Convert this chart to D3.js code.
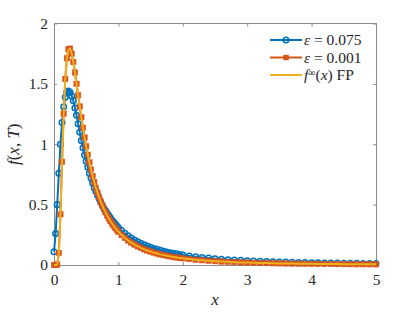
<!DOCTYPE html>
<html><head><meta charset="utf-8">
<script src="https://cdn.jsdelivr.net/npm/d3@7"></script>
<style>body{margin:0;background:#fff}svg{display:block}</style>
</head><body>
<svg id="c" width="415" height="312"></svg>
<script>
const xValues = [0,0.025,0.05,0.075,0.1,0.125,0.15,0.175,0.2,0.225,0.25,0.275,0.3,0.325,0.35,0.375,0.4,0.425,0.45,0.475,0.5,0.525,0.55,0.575,0.6,0.625,0.65,0.675,0.7,0.725,0.75,0.775,0.8,0.825,0.85,0.875,0.9,0.925,0.95,0.975,1.0,
1.05,1.1,1.15,1.2,1.25,1.3,1.35,1.4,1.45,1.5,1.55,1.6,1.65,1.7,1.75,1.8,1.85,1.9,1.95,2.0,
2.1,2.2,2.3,2.4,2.5,2.6,2.7,2.8,2.9,3.0,3.1,3.2,3.3,3.4,3.5,3.6,3.7,3.8,3.9,4.0,4.1,4.2,4.3,4.4,4.5,4.6,4.7,4.8,4.9,5.0];
const eps075 = [0.11,0.26,0.50,0.76,1.00,1.18,1.31,1.39,1.43,1.44,1.43,1.40,1.36,1.30,1.24,1.17,1.10,1.03,0.97,0.91,0.86,0.81,0.76,0.72,0.68,0.64,0.61,0.58,0.55,0.52,0.495,0.47,0.45,0.43,0.41,0.39,0.37,0.355,0.34,0.325,0.31,
0.285,0.262,0.242,0.224,0.207,0.192,0.179,0.167,0.156,0.146,0.137,0.129,0.121,0.114,0.108,0.102,0.097,0.092,0.087,0.083,
0.075,0.068,0.062,0.057,0.052,0.048,0.044,0.041,0.038,0.035,0.033,0.031,0.029,0.027,0.025,0.024,0.022,0.021,0.020,0.019,0.018,0.017,0.0165,0.016,0.015,0.014,0.0135,0.013,0.0125,0.012];
const eps001 = [0,0,0.004,0.10,0.42,0.855,1.254,1.541,1.712,1.786,1.792,1.750,1.681,1.594,1.501,1.405,1.313,1.223,1.137,1.056,0.982,0.913,0.850,0.791,0.737,0.687,0.641,0.599,0.562,0.526,0.494,0.463,0.436,0.410,0.386,0.364,0.344,0.325,0.307,0.291,0.276,
0.248,0.224,0.203,0.185,0.169,0.154,0.142,0.130,0.120,0.111,0.1025,0.095,0.088,0.082,0.077,0.0716,0.0669,0.0627,0.0588,0.0553,
0.0491,0.0437,0.0391,0.0351,0.0316,0.0287,0.0260,0.0237,0.0217,0.0199,0.0183,0.0168,0.0156,0.0144,0.0134,0.0124,0.0115,0.0107,0.0100,0.0094,0.0088,0.0083,0.0078,0.0073,0.0069,0.0065,0.0061,0.0058,0.0055,0.0052];
const fpValues = [0,0,0.004,0.10,0.418,0.855,1.254,1.541,1.712,1.786,1.792,1.750,1.681,1.594,1.501,1.405,1.313,1.223,1.137,1.056,0.982,0.913,0.850,0.791,0.737,0.687,0.641,0.599,0.562,0.526,0.494,0.463,0.436,0.410,0.386,0.364,0.344,0.325,0.307,0.291,0.276,
0.248,0.224,0.203,0.185,0.169,0.154,0.142,0.130,0.120,0.111,0.1025,0.095,0.088,0.082,0.077,0.0716,0.0669,0.0627,0.0588,0.0553,
0.0491,0.0437,0.0391,0.0351,0.0316,0.0287,0.0260,0.0237,0.0217,0.0199,0.0183,0.0168,0.0156,0.0144,0.0134,0.0124,0.0115,0.0107,0.0100,0.0094,0.0088,0.0083,0.0078,0.0073,0.0069,0.0065,0.0061,0.0058,0.0055,0.0052];
const xTicks = [0,1,2,3,4,5];
const yTicks = [0,0.5,1,1.5,2];
const yTickLabels = ["0","0.5","1","1.5","2"];

const svg = d3.select("#c");
const L=54,R=376,T=23.5,B=265;
const x = d3.scaleLinear().domain([0,5]).range([L,R]);
const y = d3.scaleLinear().domain([0,2]).range([B,T]);
const axisCol="#262626", font="'Liberation Serif', 'DejaVu Serif', serif";
const C_BLUE="#0072BD", C_OR="#D95319", C_YEL="#EDB120";

const g = svg.append("g");
g.append("rect").attr("x",L).attr("y",T).attr("width",R-L).attr("height",B-T)
 .attr("fill","none").attr("stroke","#8c8c8c").attr("stroke-width",1).attr("shape-rendering","crispEdges");

const xb = g.append("g").attr("transform",`translate(0,${B})`)
  .call(d3.axisBottom(x).tickValues(xTicks).tickSizeInner(-3).tickSizeOuter(0).tickPadding(9).tickFormat(d3.format("d")));
const xt = g.append("g").attr("transform",`translate(0,${T})`)
  .call(d3.axisTop(x).tickValues(xTicks).tickSizeInner(-3).tickSizeOuter(0).tickFormat(""));
const yl = g.append("g").attr("transform",`translate(${L},0)`)
  .call(d3.axisLeft(y).tickValues(yTicks).tickSizeInner(-3).tickSizeOuter(0).tickPadding(6).tickFormat((d,i)=>yTickLabels[i]));
const yr = g.append("g").attr("transform",`translate(${R},0)`)
  .call(d3.axisRight(y).tickValues(yTicks).tickSizeInner(-3).tickSizeOuter(0).tickFormat(""));
[xb,xt,yl,yr].forEach(a=>{
  a.attr("font-family",font).attr("font-size",15.5);
  a.select(".domain").remove();
  a.selectAll(".tick line").attr("stroke","#8c8c8c");
  a.selectAll("text").attr("font-family",font).attr("font-size",15.5).attr("fill",axisCol);
});

const pts = (vals)=>xValues.map((xv,i)=>[xv,vals[i]]);
const line = d3.line().x(d=>x(d[0])).y(d=>y(d[1]));
const plot = svg.append("g");

plot.append("path").datum(pts(eps075)).attr("d",line).attr("fill","none").attr("stroke",C_BLUE).attr("stroke-width",2);
plot.append("g").selectAll("circle").data(pts(eps075)).join("circle")
  .attr("cx",d=>x(d[0])).attr("cy",d=>y(d[1])).attr("r",2.8)
  .attr("fill","none").attr("stroke",C_BLUE).attr("stroke-width",1.5);
plot.append("path").datum(pts(eps001)).attr("d",line).attr("fill","none").attr("stroke",C_OR).attr("stroke-width",2);
plot.append("g").selectAll("rect").data(pts(eps001)).join("rect")
  .attr("x",d=>x(d[0])-2.7).attr("y",d=>y(d[1])-2.7).attr("width",5.4).attr("height",5.4)
  .attr("fill",C_OR).attr("stroke",C_OR).attr("stroke-width",0.5);
plot.append("path").datum(pts(fpValues)).attr("d",line).attr("fill","none").attr("stroke",C_YEL).attr("stroke-width",2);

svg.append("text").attr("x",(L+R)/2).attr("y",305).attr("text-anchor","middle")
  .attr("font-family",font).attr("font-size",17).attr("font-style","italic").attr("fill",axisCol).text("x");
const yt = svg.append("text").attr("transform",`translate(19,${(T+B)/2}) rotate(-90)`).attr("text-anchor","middle")
  .attr("font-family",font).attr("font-size",17).attr("fill",axisCol);
yt.append("tspan").attr("font-style","italic").text("f");
yt.append("tspan").text("(");
yt.append("tspan").attr("font-style","italic").text("x");
yt.append("tspan").text(", ");
yt.append("tspan").attr("font-style","italic").text("T");
yt.append("tspan").text(")");

const lg = svg.append("g");
const entries = [
  {c:C_BLUE, m:"circle", y:40},
  {c:C_OR, m:"square", y:57.5},
  {c:C_YEL, m:null, y:75}
];
entries.forEach((e,i)=>{
  lg.append("line").attr("x1",270).attr("x2",302).attr("y1",e.y).attr("y2",e.y).attr("stroke",e.c).attr("stroke-width",2);
  if(e.m==="circle") lg.append("circle").attr("cx",286).attr("cy",e.y).attr("r",2.8).attr("fill","none").attr("stroke",e.c).attr("stroke-width",1.5);
  if(e.m==="square") lg.append("rect").attr("x",283.3).attr("y",e.y-2.7).attr("width",5.4).attr("height",5.4).attr("fill",e.c);
  const t = lg.append("text").attr("x",304).attr("y",e.y+5).attr("font-family",font).attr("font-size",15.5).attr("fill",axisCol);
  if(i===0){ t.append("tspan").attr("font-style","italic").text("ε"); t.append("tspan").text(" = 0.075"); }
  if(i===1){ t.append("tspan").attr("font-style","italic").text("ε"); t.append("tspan").text(" = 0.001"); }
  if(i===2){
    t.append("tspan").attr("font-style","italic").text("f");
    t.append("tspan").attr("font-size",10).attr("dy",-4.5).text("∞");
    t.append("tspan").attr("dy",4.5).text("(");
    t.append("tspan").attr("font-style","italic").text("x");
    t.append("tspan").text(") FP");
  }
});
</script>
</body></html>
